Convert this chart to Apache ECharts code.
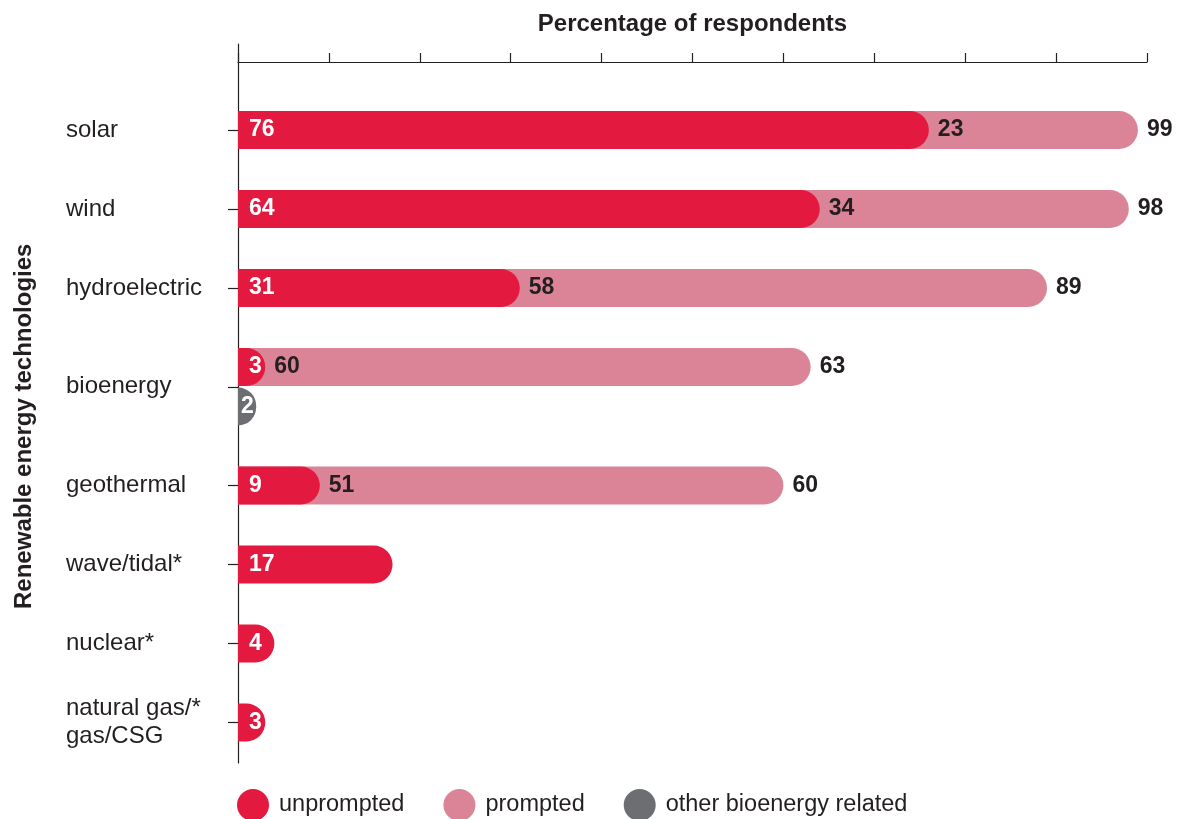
<!DOCTYPE html>
<html>
<head>
<meta charset="utf-8">
<title>Renewable energy technologies</title>
<script src="https://cdn.jsdelivr.net/npm/echarts@6/dist/echarts.min.js"></script>
<style>
  html, body { margin: 0; padding: 0; background: #ffffff; }
  #chart { width: 1180px; height: 819px; }
</style>
</head>
<body>
<div id="chart"></div>
<script>
// Awareness of renewable energy technologies (% of respondents)
const categories = ['solar', 'wind', 'hydroelectric', 'bioenergy', 'geothermal', 'wave/tidal*', 'nuclear*', 'natural gas/*\ngas/CSG'];
const unprompted = [76, 64, 31, 3, 9, 17, 4, 3];
const prompted   = [23, 34, 58, 60, 51, null, null, null];
const otherBioenergy = [null, null, null, 2, null, null, null, null];
const xTicks = [0, 10, 20, 30, 40, 50, 60, 70, 80, 90, 100];

const RED = '#e3193f';
const PINK = '#dc8497';
const GREY = '#6d6e72';
const INK = '#231f20';
const FONT = '"Liberation Sans", Arial, Helvetica, sans-serif';
const TEXT_SIZE = 24;
const NUM_SIZE = 23;

// Layout: each category row uses two half-height slots (bar + gap);
// a category with an "other bioenergy" bar gets one extra slot for it.
const SLOT = 39.5;
const FIRST_ROW_CENTRE = 130;
const FRAME_TOP = 44, FRAME_BOTTOM = 763;
const AXIS_LINE_Y = 62;

const slots = [];          // {cat, kind}
const catPos = [];         // axis position (slot index) of each category label
categories.forEach((c, i) => {
  const start = slots.length;
  slots.push({ cat: i, kind: 'main' });
  if (otherBioenergy[i] != null) slots.push({ cat: i, kind: 'other' });
  catPos.push((start + slots.length - 1) / 2);
  if (i < categories.length - 1) slots.push({ cat: i, kind: 'gap' });
});

const slotNames = slots.map((s, k) => 'slot' + k);
const pick = (arr, kind) => slots.map(s => (s.kind === kind && arr[s.cat] != null) ? arr[s.cat] : null);

const unpromptedSlots = pick(unprompted, 'main');
const promptedSlots = pick(prompted, 'main');
const totalSlots = slots.map(s => (s.kind === 'main' && prompted[s.cat] != null) ? unprompted[s.cat] + prompted[s.cat] : null);
const otherSlots = pick(otherBioenergy, 'other');

const gridTop = FIRST_ROW_CENTRE - SLOT / 2;
const gridHeight = slots.length * SLOT;

const chart = echarts.init(document.getElementById('chart'), null, { renderer: 'canvas' });

const numLabel = (color, dist) => ({
  show: true,
  position: 'insideLeft',
  distance: dist,
  color: color,
  fontFamily: FONT,
  fontWeight: 'bold',
  fontSize: NUM_SIZE
});

chart.setOption({
  animation: false,
  textStyle: { fontFamily: FONT },
  grid: [
    { left: 238, right: 33, top: gridTop, height: gridHeight, outerBoundsMode: 'none' },
    { left: 238, right: 33, top: FRAME_TOP, bottom: 819 - FRAME_BOTTOM, outerBoundsMode: 'none' }
  ],
  xAxis: [
    {
      gridIndex: 0,
      type: 'value',
      position: 'top',
      offset: gridTop - AXIS_LINE_Y,
      min: xTicks[0],
      max: xTicks[xTicks.length - 1],
      interval: xTicks[1] - xTicks[0],
      name: 'Percentage of respondents',
      nameLocation: 'middle',
      nameGap: 26,
      nameTextStyle: { color: INK, fontWeight: 'bold', fontSize: TEXT_SIZE, fontFamily: FONT },
      axisLine: { show: true, lineStyle: { color: INK, width: 1.2 } },
      axisTick: { show: true, length: 9, lineStyle: { color: INK, width: 1.2 } },
      axisLabel: { show: false },
      splitLine: { show: false }
    },
    {
      gridIndex: 1,
      type: 'value',
      min: 0, max: 100,
      show: false
    }
  ],
  yAxis: [
    {
      gridIndex: 0,
      type: 'category',
      inverse: true,
      data: slotNames,
      axisLine: { show: false },
      axisTick: { show: false },
      axisLabel: { show: false },
      name: 'Renewable energy technologies',
      nameLocation: 'middle',
      nameRotate: 90,
      nameGap: 202,
      nameTextStyle: { color: INK, fontWeight: 'bold', fontSize: TEXT_SIZE, fontFamily: FONT }
    },
    {
      gridIndex: 1,
      type: 'value',
      inverse: true,
      min: (FRAME_TOP - FIRST_ROW_CENTRE) / SLOT,
      max: (FRAME_BOTTOM - FIRST_ROW_CENTRE) / SLOT,
      axisLine: { show: true, lineStyle: { color: INK, width: 1.2 } },
      axisTick: { show: true, length: 10, customValues: catPos, lineStyle: { color: INK, width: 1.2 } },
      axisLabel: {
        show: true,
        customValues: catPos,
        align: 'left',
        margin: 172,
        color: INK,
        fontSize: TEXT_SIZE,
        lineHeight: 28,
        fontFamily: FONT,
        formatter: v => {
          const i = catPos.findIndex(p => Math.abs(p - v) < 1e-6);
          return i >= 0 ? categories[i] : '';
        }
      },
      splitLine: { show: false }
    }
  ],
  legend: {
    left: 232,
    top: 784,
    itemWidth: 32,
    itemHeight: 32,
    itemGap: 39,
    icon: 'circle',
    data: ['unprompted', 'prompted', 'other bioenergy related'],
    textStyle: { color: INK, fontSize: 23.5, fontFamily: FONT, padding: [0, 0, 0, 5] }
  },
  series: [
    {
      name: 'prompted',
      type: 'bar',
      xAxisIndex: 0, yAxisIndex: 0,
      data: totalSlots,
      barWidth: 38,
      barGap: '-100%',
      itemStyle: { color: PINK, borderRadius: [0, 19, 19, 0] },
      label: {
        show: true,
        position: 'right',
        distance: 9,
        color: INK,
        fontFamily: FONT,
        fontWeight: 'bold',
        fontSize: NUM_SIZE
      },
      silent: true
    },
    {
      name: 'unprompted',
      type: 'bar',
      stack: 'awareness',
      xAxisIndex: 0, yAxisIndex: 0,
      data: unpromptedSlots,
      barWidth: 38,
      barGap: '-100%',
      itemStyle: { color: RED, borderRadius: [0, 19, 19, 0] },
      label: numLabel('#ffffff', 11),
      z: 3
    },
    {
      // carries the prompted-only figure, placed just past the unprompted bar
      name: 'prompted value',
      type: 'bar',
      stack: 'awareness',
      xAxisIndex: 0, yAxisIndex: 0,
      data: promptedSlots,
      barWidth: 38,
      barGap: '-100%',
      itemStyle: { color: 'rgba(0,0,0,0)' },
      label: numLabel(INK, 9),
      silent: true,
      z: 4
    },
    {
      name: 'other bioenergy related',
      type: 'bar',
      xAxisIndex: 0, yAxisIndex: 0,
      data: otherSlots,
      barWidth: 38,
      barGap: '-100%',
      itemStyle: { color: GREY, borderRadius: [0, 19, 19, 0] },
      label: numLabel('#ffffff', 3),
      z: 3
    }
  ]
});
</script>
</body>
</html>
